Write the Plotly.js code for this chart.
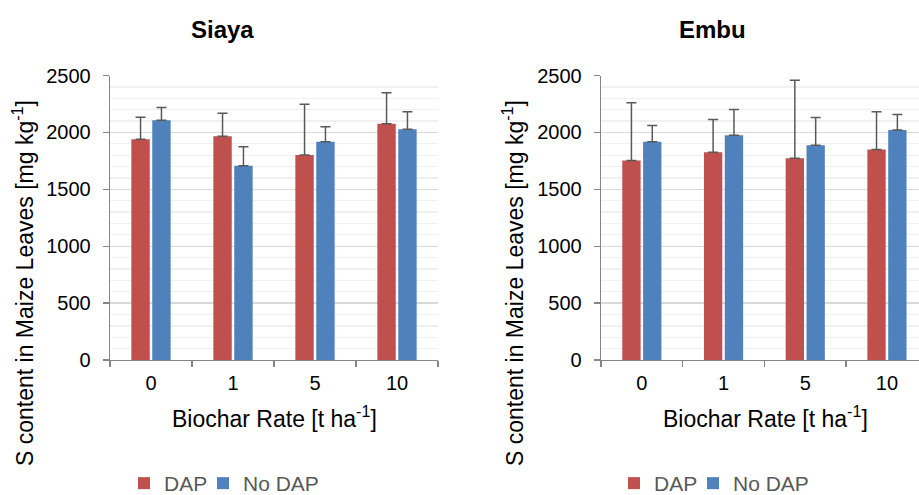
<!DOCTYPE html>
<html>
<head>
<meta charset="utf-8">
<script src="https://cdn.plot.ly/plotly-3.0.1.min.js"></script>
<style>html,body{margin:0;padding:0;background:#fff;}#chart{width:919px;height:495px;}</style>
</head>
<body>
<div id="chart"></div>
<script>
// Data
const categories = ['0', '1', '5', '10'];
const siayaDAP = [1940, 1967, 1802, 2075];
const siayaDAPErr = [194, 202, 446, 273];
const siayaNoDAP = [2107, 1706, 1917, 2028];
const siayaNoDAPErr = [112, 167, 132, 153];
const embuDAP = [1753, 1826, 1773, 1849];
const embuDAPErr = [507, 287, 686, 332];
const embuNoDAP = [1917, 1975, 1887, 2022];
const embuNoDAPErr = [143, 226, 244, 135];
const seriesNames = ['DAP', 'No DAP'];
const titles = ['Siaya', 'Embu'];
const yTitle = 'S content in Maize Leaves [mg kg<sup>-1</sup>]';
const xTitle = 'Biochar Rate [t ha<sup>-1</sup>]';

const RED = '#C0504D', BLUE = '#4F81BD';
const FONT = 'Liberation Sans, Arial, sans-serif';
const W = 919, H = 495;
const px = v => v / W;
const py = v => (H - v) / H;

function err(arr) {
  return {type: 'data', symmetric: false, array: arr, arrayminus: arr.map(() => 0),
          color: '#595959', thickness: 1.5, width: 5};
}
function bar(name, y, e, color, xa, ya, lg) {
  return {type: 'bar', name: name, x: categories, y: y, error_y: err(e),
          marker: {color: color}, xaxis: xa, yaxis: ya, legend: lg, hoverinfo: 'y'};
}

const data = [
  bar(seriesNames[0], siayaDAP, siayaDAPErr, RED, 'x', 'y', 'legend'),
  bar(seriesNames[1], siayaNoDAP, siayaNoDAPErr, BLUE, 'x', 'y', 'legend2'),
  bar(seriesNames[0], embuDAP, embuDAPErr, RED, 'x2', 'y2', 'legend3'),
  bar(seriesNames[1], embuNoDAP, embuNoDAPErr, BLUE, 'x2', 'y2', 'legend4')
];

const yDomain = [py(360), py(75.5)];
function yaxis(anchor) {
  return {anchor: anchor, domain: yDomain, range: [0, 2500], dtick: 500, tick0: 0,
          showline: true, linecolor: '#868686', linewidth: 1.3,
          ticks: 'outside', ticklen: 6, tickcolor: '#868686', tickwidth: 1.3,
          ticklabelstandoff: 8,
          tickfont: {family: FONT, size: 20, color: '#000'},
          showgrid: true, gridcolor: '#D9D9D9', gridwidth: 1.3, zeroline: false,
          minor: {dtick: 100, showgrid: true, gridcolor: '#F0F0F0', gridwidth: 1.3, ticks: ''},
          automargin: false, fixedrange: true};
}
function xaxis(anchor, domain, range) {
  return {anchor: anchor, domain: domain, type: 'category', range: range,
          showline: true, linecolor: '#868686', linewidth: 1.3,
          ticks: 'outside', tickson: 'boundaries', ticklen: 6, tickcolor: '#868686', tickwidth: 1.3,
          ticklabelstandoff: 5,
          tickfont: {family: FONT, size: 20, color: '#000'},
          showgrid: false, zeroline: false, automargin: false, fixedrange: true};
}

const legendCommon = {orientation: 'h', xanchor: 'left', yanchor: 'bottom', y: -9 / H,
  font: {family: FONT, size: 21, color: '#595959'}, itemwidth: 30,
  bgcolor: 'rgba(0,0,0,0)', traceorder: 'normal'};
function lg(x) { return Object.assign({}, legendCommon, {x: px(x)}); }

const layout = {
  width: W, height: H, autosize: false,
  margin: {l: 0, r: 0, t: 0, b: 0, pad: 0, autoexpand: false},
  paper_bgcolor: '#fff', plot_bgcolor: '#fff',
  barmode: 'group', bargap: 0.49, bargroupgap: 0.12,
  showlegend: true,
  xaxis: xaxis('y', [px(110), px(438)], [-0.5, 3.5]),
  yaxis: yaxis('x'),
  xaxis2: xaxis('y2', [px(601), 1], [-0.5, -0.5 + 318 / 81.7]),
  yaxis2: yaxis('x2'),
  legend: lg(124),
  legend2: lg(203),
  legend3: lg(614),
  legend4: lg(693),
  annotations: [
    {text: '<b>' + titles[0] + '</b>', x: px(222), y: py(29), xref: 'paper', yref: 'paper',
     showarrow: false, xanchor: 'center', yanchor: 'middle', font: {family: FONT, size: 24, color: '#000'}},
    {text: '<b>' + titles[1] + '</b>', x: px(712), y: py(29), xref: 'paper', yref: 'paper',
     showarrow: false, xanchor: 'center', yanchor: 'middle', font: {family: FONT, size: 24, color: '#000'}},
    {text: yTitle, x: px(23), y: py(283), xref: 'paper', yref: 'paper', textangle: -90,
     showarrow: false, xanchor: 'center', yanchor: 'middle', font: {family: FONT, size: 23, color: '#000'}},
    {text: yTitle, x: px(513), y: py(283), xref: 'paper', yref: 'paper', textangle: -90,
     showarrow: false, xanchor: 'center', yanchor: 'middle', font: {family: FONT, size: 23, color: '#000'}},
    {text: xTitle, x: px(274), y: py(417), xref: 'paper', yref: 'paper',
     showarrow: false, xanchor: 'center', yanchor: 'middle', font: {family: FONT, size: 23, color: '#000'}},
    {text: xTitle, x: px(765), y: py(417), xref: 'paper', yref: 'paper',
     showarrow: false, xanchor: 'center', yanchor: 'middle', font: {family: FONT, size: 23, color: '#000'}}
  ]
};

Plotly.newPlot('chart', data, layout, {displayModeBar: false, staticPlot: true});
</script>
</body>
</html>
